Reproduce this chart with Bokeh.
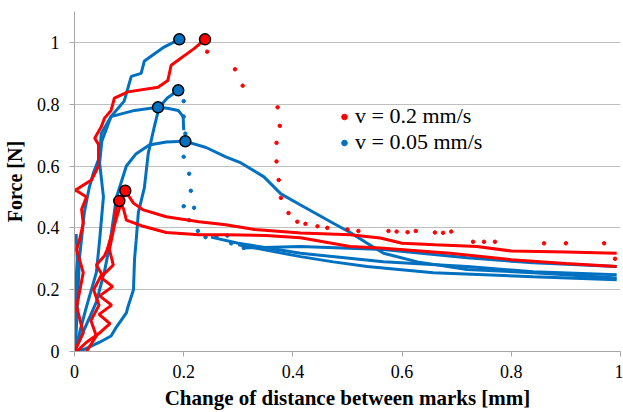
from bokeh.plotting import figure
from bokeh.models import Legend, LegendItem, FixedTicker, Range1d
from bokeh.embed import file_html
from bokeh.resources import INLINE

RED = "#FF0000"
BLUE = "#0070C0"
SERIF = "Liberation Serif"

x_ticks = [0, 0.2, 0.4, 0.6, 0.8, 1]
y_ticks = [0, 0.2, 0.4, 0.6, 0.8, 1]
x_tick_labels = ["0", "0.2", "0.4", "0.6", "0.8", "1"]
y_tick_labels = ["0", "0.2", "0.4", "0.6", "0.8", "1"]
legend_labels = ["v = 0.2 mm/s", "v = 0.05 mm/s"]

# ---- v = 0.2 mm/s (red) ----
r1_x = [0, 0.016, 0.004, 0.016, 0.004, 0.009, 0.016, 0.013, 0.022, 0.004, 0.0, 0.031, 0.044, 0.044,
        0.037, 0.049, 0.055, 0.067, 0.073, 0.098, 0.153, 0.171, 0.177, 0.219, 0.239]
r1_y = [0, 0.06, 0.145, 0.255, 0.33, 0.36, 0.415, 0.46, 0.5, 0.52, 0.52, 0.555, 0.6, 0.67,
        0.69, 0.727, 0.755, 0.78, 0.82, 0.84, 0.855, 0.877, 0.926, 0.98, 1.01]
r1_fall_x = [0.243, 0.294, 0.308, 0.372, 0.376, 0.37, 0.37, 0.374, 0.378, 0.392, 0.408, 0.423, 0.445,
             0.463, 0.5, 0.52, 0.575, 0.59, 0.61, 0.625, 0.66, 0.675, 0.69, 0.73, 0.75, 0.77, 0.86,
             0.9, 0.99, 0.97]
r1_fall_y = [0.97, 0.913, 0.86, 0.79, 0.73, 0.675, 0.615, 0.555, 0.497, 0.448, 0.42, 0.413, 0.405,
             0.4, 0.395, 0.39, 0.39, 0.388, 0.386, 0.39, 0.385, 0.384, 0.388, 0.355, 0.355, 0.355,
             0.35, 0.35, 0.3, 0.35]
r2_x = [0.022, 0.04, 0.03, 0.045, 0.035, 0.05, 0.04, 0.055, 0.06, 0.075, 0.085, 0.093, 0.108, 0.126,
        0.168, 0.228, 0.277, 0.33, 0.414, 0.505, 0.56, 0.6, 0.66, 0.737, 0.8, 0.9, 0.993]
r2_y = [0.0, 0.05, 0.1, 0.15, 0.2, 0.25, 0.28, 0.31, 0.33, 0.42, 0.48, 0.52, 0.48, 0.458,
        0.436, 0.42, 0.41, 0.395, 0.383, 0.378, 0.367, 0.35, 0.345, 0.34, 0.325, 0.322, 0.318]
r3_x = [0.004, 0.022, 0.046, 0.065, 0.045, 0.068, 0.046, 0.07, 0.048, 0.071, 0.064, 0.071, 0.077, 0.082,
        0.09, 0.095, 0.126, 0.168, 0.228, 0.277, 0.35, 0.414, 0.505, 0.56, 0.688, 0.8, 0.9, 0.993]
r3_y = [0, 0.03, 0.06, 0.09, 0.12, 0.15, 0.18, 0.21, 0.24, 0.28, 0.33, 0.39, 0.47, 0.487,
        0.46, 0.425, 0.405, 0.385, 0.378, 0.378, 0.375, 0.368, 0.34, 0.335, 0.318, 0.297, 0.285, 0.275]
red_peak_x = [0.239, 0.093, 0.082]
red_peak_y = [1.01, 0.52, 0.487]

# ---- v = 0.05 mm/s (blue) ----
b1_x = [0, 0.004, 0.009, 0.018, 0.027, 0.035, 0.046, 0.049, 0.067, 0.091, 0.104, 0.122, 0.128, 0.164, 0.192]
b1_y = [0, 0.1, 0.3, 0.45, 0.53, 0.58, 0.63, 0.705, 0.76, 0.81, 0.89, 0.9, 0.94, 0.985, 1.01]
b1_tail_x = [0.3, 0.414, 0.474, 0.536, 0.657, 0.84, 0.993]
b1_tail_y = [0.345, 0.307, 0.29, 0.275, 0.255, 0.242, 0.232]
b2_x = [0, 0.018, 0.046, 0.067, 0.077, 0.095, 0.098, 0.108, 0.11, 0.113, 0.117, 0.128, 0.135, 0.146,
        0.155, 0.17, 0.19]
b2_y = [0, 0.007, 0.03, 0.05, 0.08, 0.125, 0.145, 0.2, 0.3, 0.36, 0.45, 0.53, 0.64, 0.726,
        0.79, 0.82, 0.845]
b2_fall_x = [0.2, 0.2, 0.203, 0.2, 0.21, 0.213, 0.2, 0.219, 0.21, 0.226, 0.24, 0.26, 0.28, 0.287, 0.31]
b2_fall_y = [0.81, 0.76, 0.705, 0.63, 0.575, 0.52, 0.47, 0.465, 0.425, 0.39, 0.37, 0.372, 0.375, 0.35, 0.335]
b2_tail_x = [0.31, 0.414, 0.566, 0.719, 0.84, 0.993]
b2_tail_y = [0.335, 0.34, 0.33, 0.303, 0.287, 0.275]
b3_x = [0, 0.022, 0.04, 0.046, 0.053, 0.046, 0.05, 0.067, 0.11, 0.153, 0.17, 0.19, 0.199, 0.2]
b3_y = [0, 0.145, 0.255, 0.36, 0.5, 0.61, 0.68, 0.76, 0.78, 0.79, 0.787, 0.78, 0.76, 0.716]
b3_tail_x = [0.25, 0.3, 0.414, 0.566, 0.719, 0.84, 0.993]
b3_tail_y = [0.37, 0.35, 0.318, 0.29, 0.275, 0.258, 0.248]
b4_x = [0, 0.02, 0.04, 0.055, 0.064, 0.077, 0.095, 0.113, 0.137, 0.168, 0.203, 0.241, 0.277, 0.305,
        0.347, 0.378, 0.414, 0.474, 0.505, 0.536, 0.566, 0.628, 0.719, 0.84, 0.993]
b4_y = [0, 0.08, 0.16, 0.26, 0.34, 0.5, 0.6, 0.64, 0.668, 0.678, 0.68, 0.66, 0.63, 0.61,
        0.565, 0.51, 0.474, 0.415, 0.385, 0.35, 0.318, 0.29, 0.265, 0.255, 0.238]
b5_x = [0, 0.004, 0.002, 0.005, 0.003]
b5_y = [0, 0.1, 0.2, 0.3, 0.38]
blue_peak_x = [0.192, 0.19, 0.153, 0.203]
blue_peak_y = [1.01, 0.845, 0.79, 0.68]

p = figure(width=623, height=412, output_backend="svg", toolbar_location=None,
           x_range=Range1d(0, 1), y_range=Range1d(0, 1.1),
           min_border_left=73, min_border_right=3, min_border_top=11, min_border_bottom=60)
p.outline_line_color = None
p.background_fill_color = "white"
p.border_fill_color = "white"

LW = 3
p.line(b5_x, b5_y, color=BLUE, line_width=LW)
p.line(b1_x, b1_y, color=BLUE, line_width=LW)
p.line(b1_tail_x, b1_tail_y, color=BLUE, line_width=LW)
p.line(b2_x, b2_y, color=BLUE, line_width=LW)
p.scatter(b2_fall_x, b2_fall_y, color=BLUE, size=3.5)
p.line(b2_tail_x, b2_tail_y, color=BLUE, line_width=LW)
p.line(b3_x, b3_y, color=BLUE, line_width=LW)
p.line(b3_tail_x, b3_tail_y, color=BLUE, line_width=LW)
p.line(b4_x, b4_y, color=BLUE, line_width=LW)

p.line(r1_x, r1_y, color=RED, line_width=LW)
p.scatter(r1_fall_x, r1_fall_y, color=RED, size=3.5)
p.line(r2_x, r2_y, color=RED, line_width=LW)
p.line(r3_x, r3_y, color=RED, line_width=LW)

p.scatter(blue_peak_x, blue_peak_y, size=11, fill_color=BLUE, line_color="black", line_width=1.5)
p.scatter(red_peak_x, red_peak_y, size=11, fill_color=RED, line_color="black", line_width=1.5)

nan = float("nan")
leg_r = p.scatter([nan], [nan], size=9, color=RED)
leg_b = p.scatter([nan], [nan], size=9, color=BLUE)
legend = Legend(items=[LegendItem(label=legend_labels[0], renderers=[leg_r]),
                       LegendItem(label=legend_labels[1], renderers=[leg_b])],
                location=(263, 196), label_text_font=SERIF, label_text_font_size="22px",
                label_text_color="black", glyph_width=14, glyph_height=23, label_height=23,
                label_standoff=4, spacing=0, padding=0, margin=0,
                border_line_color=None, background_fill_alpha=0)
p.add_layout(legend, "center")

p.xgrid.visible = False
p.ygrid.grid_line_color = "#BFBFBF"
p.ygrid.grid_line_width = 1
p.ygrid.ticker = FixedTicker(ticks=y_ticks)

for ax in (p.xaxis[0], p.yaxis[0]):
    ax.axis_line_color = "#A6A6A6"
    ax.major_tick_line_color = "#A6A6A6"
    ax.major_tick_out = 5
    ax.major_tick_in = 0
    ax.minor_tick_line_color = None
    ax.major_label_text_font = SERIF
    ax.major_label_text_font_size = "18px"
    ax.major_label_text_font_style = "normal"
    ax.major_label_text_color = "black"
    ax.axis_label_text_font = SERIF
    ax.axis_label_text_font_style = "bold"
    ax.axis_label_text_color = "black"

p.xaxis.axis_label_text_font_size = "21px"
p.yaxis.axis_label_text_font_size = "20px"
p.xaxis.ticker = FixedTicker(ticks=x_ticks)
p.yaxis.ticker = FixedTicker(ticks=y_ticks)
p.xaxis.major_label_overrides = {t: s for t, s in zip(x_ticks, x_tick_labels)}
p.yaxis.major_label_overrides = {t: s for t, s in zip(y_ticks, y_tick_labels)}
p.xaxis.axis_label = "Change of distance between marks [mm]"
p.yaxis.axis_label = "Force [N]"
p.xaxis.major_label_standoff = 8
p.xaxis.axis_label_standoff = 5
p.yaxis.major_label_standoff = 10
p.yaxis.axis_label_standoff = 8

open("out.html", "w").write(file_html(p, INLINE))
